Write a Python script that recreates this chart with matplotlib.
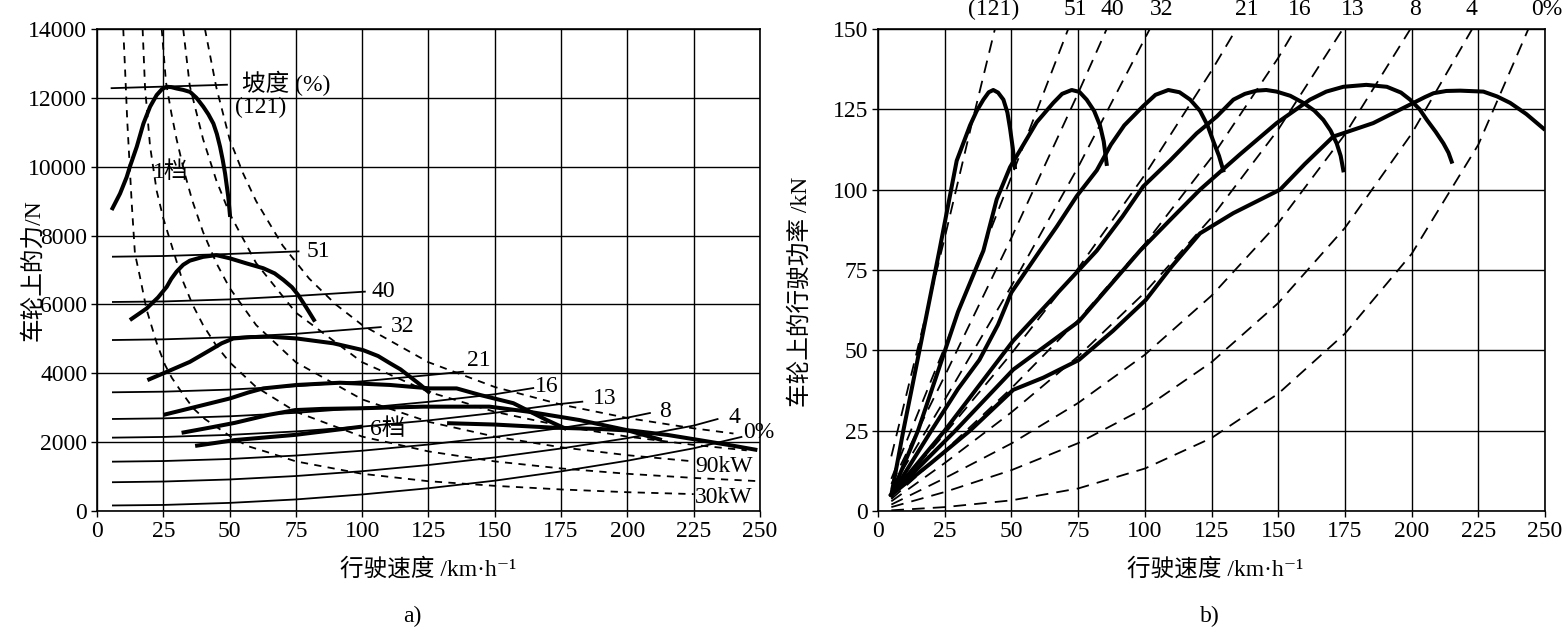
import numpy as np
import matplotlib.pyplot as plt

plt.rcParams['font.family'] = ['Liberation Serif', 'Noto Sans CJK SC', 'DejaVu Serif']
plt.rcParams['axes.unicode_minus'] = False

# ---------------- a) force at the wheels ----------------
# driving resistance for each grade (thin solid lines): speed km/h, force N
res_121_v = [5.5, 49]
res_121_f = [12280, 12380]
res_51_v = [6, 25, 50, 76]
res_51_f = [7385, 7405, 7465, 7540]
res_40_v = [6, 25, 50, 75, 101]
res_40_f = [6070, 6085, 6145, 6245, 6370]
res_32_v = [6, 25, 50, 75, 107]
res_32_f = [4965, 4985, 5045, 5145, 5340]
res_21_v = [6, 25, 50, 75, 100, 125, 138]
res_21_f = [3447, 3465, 3525, 3625, 3765, 3945, 4045]
res_16_v = [6, 25, 50, 75, 100, 125, 150, 164.5]
res_16_f = [2672, 2690, 2750, 2850, 2990, 3170, 3390, 3570]
res_13_v = [6, 25, 50, 75, 100, 125, 150, 175, 183]
res_13_f = [2130, 2150, 2210, 2310, 2450, 2630, 2850, 3110, 3175]
res_8_v = [6, 25, 50, 75, 100, 125, 150, 175, 200, 208.5]
res_8_f = [1432, 1450, 1510, 1610, 1750, 1930, 2150, 2410, 2710, 2845]
res_4_v = [6, 25, 50, 75, 100, 125, 150, 175, 200, 225, 234]
res_4_f = [835, 855, 915, 1015, 1155, 1335, 1555, 1815, 2115, 2480, 2670]
res_0_v = [6, 25, 50, 75, 100, 125, 150, 175, 200, 225, 243]
res_0_f = [160, 175, 235, 335, 480, 660, 880, 1150, 1460, 1820, 2150]

# constant power lines (dashed), kW
pw30_v = [9.9, 10.6, 11.4, 13.1, 14.3, 16.2, 18.7, 22.5, 25.6, 28.2, 31.9, 36.3, 40.7,
          50.8, 57, 64.6, 75, 100, 125, 150, 175, 200, 225]
pw30_f = [14000, 12800, 11340, 8930, 7480, 6800, 5850, 4880, 4250, 3870, 3450, 2980, 2670,
          2140, 1880, 1700, 1440, 1080, 864, 730, 625, 545, 490]
pw60_v = [17.2, 18.1, 20, 22.5, 25, 28.2, 32, 36, 40, 45, 50, 60, 75, 100, 125, 150, 175, 200, 225, 250]
pw60_f = [14000, 12320, 10600, 9300, 8500, 7700, 6750, 6000, 5400, 4800, 4320, 3600, 2880,
          2160, 1730, 1440, 1235, 1080, 960, 864]
pw90_v = [24.4, 26, 28, 30, 33, 36, 40, 45, 50, 60, 75, 100, 125, 150, 175, 200, 225]
pw90_f = [14000, 12460, 11570, 10800, 9820, 9000, 8100, 7200, 6480, 5400, 4320, 3240, 2590,
          2160, 1850, 1620, 1440]
pw120_v = [32.5, 35, 40, 45, 50, 60, 75, 100, 125, 150, 175, 200, 225, 245]
pw120_f = [14000, 12340, 10800, 9600, 8640, 7200, 5760, 4320, 3460, 2880, 2470, 2160, 1920, 1760]
pw150_v = [40.7, 45, 50, 55, 60, 70, 80, 90, 100, 125, 150, 175, 200, 225, 240]
pw150_f = [14000, 12300, 10800, 9820, 9000, 7710, 6750, 6000, 5400, 4320, 3600, 3090, 2700, 2400, 2250]

# tractive force per gear (heavy lines)
g1_v = [5.5, 8.7, 11.2, 12.4, 15, 17.5, 20, 22.5, 24.5, 26.3, 28, 30, 32.5, 35.1, 37.5, 40.1,
        42, 43.9, 45.2, 46.4, 47.4, 48.3, 49.5, 50.2]
g1_f = [8740, 9220, 9700, 10000, 10580, 11250, 11740, 12080, 12250, 12320, 12310, 12270, 12230,
        12170, 12000, 11740, 11520, 11250, 10950, 10580, 10200, 9800, 9120, 8540]
g2_v = [12.4, 18.7, 23, 26.3, 28, 30, 32.5, 35, 40, 45, 50, 56.4, 62.7, 67, 70.3, 73.5, 75.9, 79, 82.2]
g2_f = [5545, 5880, 6200, 6510, 6740, 6950, 7150, 7270, 7380, 7430, 7340, 7190, 7050, 6900,
        6710, 6500, 6270, 5900, 5500]
g3_v = [19, 26.3, 35, 42.6, 47, 51.4, 58, 65.2, 75.3, 89.1, 100.4, 106, 110.5, 114.5, 118, 122, 125.6]
g3_f = [3800, 4040, 4330, 4670, 4870, 5010, 5050, 5060, 5010, 4870, 4670, 4500, 4290, 4110,
        3900, 3660, 3420]
g4_v = [25, 35, 50.2, 57, 62.7, 75.3, 91.6, 110.5, 125.6, 135.6, 144.4, 157, 169.6, 177]
g4_f = [2790, 2980, 3270, 3440, 3560, 3660, 3725, 3660, 3560, 3560, 3370, 3130, 2640, 2380]
g5_v = [31.9, 43.2, 52, 64.6, 74.7, 85, 97.9, 123, 148, 163, 182, 199.7, 213]
g5_f = [2270, 2430, 2560, 2790, 2930, 2965, 2980, 3030, 3030, 2880, 2640, 2350, 2060]
g6_v = [37, 52, 74.7, 100, np.nan, 132, 150, 172, 190, 202, 215, 227, 238, 249]
g6_f = [1890, 2060, 2210, 2450, np.nan, 2550, 2510, 2420, 2380, 2330, 2210, 2060, 1920, 1770]

# ---------------- b) power at the wheels ----------------
# resistance power per grade (dashed): speed km/h, power kW
rp_121_v = [5, 15, 25, 35, 45]
rp_121_p = [17, 51, 85, 120, 154]
rp_51_v = [5, 25, 50, 75]
rp_51_p = [10, 51, 104, 158]
rp_40_v = [5, 25, 50, 75, 90]
rp_40_p = [8.4, 42, 85, 130, 158]
rp_32_v = [5, 25, 50, 75, 100, 110]
rp_32_p = [6.9, 34.6, 70, 107, 147, 163]
rp_21_v = [5, 25, 50, 75, 100, 125, 140]
rp_21_p = [4.8, 24, 49, 75.5, 104.6, 137, 158]
rp_16_v = [5, 25, 50, 75, 100, 125, 150, 160]
rp_16_p = [3.7, 18.7, 38.2, 59.4, 83.1, 110, 141, 155]
rp_13_v = [5, 25, 50, 75, 100, 125, 150, 175, 180]
rp_13_p = [3.0, 14.9, 30.7, 48.1, 68, 91.3, 118.7, 151, 158]
rp_8_v = [5, 25, 50, 75, 100, 125, 150, 175, 200, 205]
rp_8_p = [2.0, 10.2, 21, 33.6, 48.6, 67, 89.6, 117.2, 150.6, 158]
rp_4_v = [5, 25, 50, 75, 100, 125, 150, 175, 200, 225]
rp_4_p = [1.2, 5.9, 12.7, 21.1, 32, 46.3, 64.7, 88.1, 117.4, 153.3]
rp_0_v = [5, 25, 50, 75, 100, 125, 150, 175, 200, 225, 250]
rp_0_p = [0.2, 1.2, 3.3, 7.0, 13.2, 22.7, 36.5, 55.2, 80, 114, 162]

# wheel power per gear (heavy lines)
p1_v = [5, 9.5, 17, 23, 29.5, 34.5, 37, 39.5, 41.5, 43.2, 45, 47, 48.5, 49.5, 50.5, 51.3]
p1_p = [5, 25, 56, 81, 109, 120, 124.5, 128, 130.3, 131, 130.2, 128, 124, 119, 113, 107]
p2_v = [5, 15, 30, 39.5, 44.5, 49.5, 54.5, 59.5, 65.7, 69, 72.6, 75.5, 78.2, 81, 83.2, 84.6, 85.7]
p2_p = [5, 25, 62, 81, 97, 107, 114, 121, 127, 129.8, 131, 130.4, 128, 124.5, 120, 115, 108]
p3_v = [5, 20, 30, 38, 45, 50, 60.7, 67, 74.5, 82, 87.3, 92.3, 99.4, 104, 108.8, 113, 117,
        120.7, 123.5, 125.7, 127.8, 129.4]
p3_p = [5, 25, 38, 47, 58, 68, 81, 88.5, 98, 106, 114, 120, 126, 129.5, 131, 130.3, 128, 124.5,
        120, 115, 110.5, 106]
p4_v = [5, 25, 50.7, 75.3, 82, 91.6, 99.4, 109.4, 119.4, 126.9, 133.2, 137.5, 141.9, 145.5, 149.4,
        154.5, 159.4, 163.5, 166.9, 169.6, 171.9, 173.4, 174.4]
p4_p = [5, 25, 53, 75, 81, 91.6, 101, 109, 117.5, 122.7, 128, 129.8, 130.8, 131, 130.5, 129.2,
        127, 124.6, 121.7, 118.4, 114.4, 110.5, 106]
p5_v = [5, 29, 50.7, 75.3, 98.2, 110, 120.7, 135.7, 149.4, 161.9, 168, 174.4, 183, 190.7, 196,
        199.4, 203, 205.7, 209, 211.9, 213.8, 215]
p5_p = [5, 25, 44, 59, 81, 91, 100, 111, 120.7, 128, 130.5, 132, 132.6, 132, 130.2, 128, 125,
        121.7, 118, 114.4, 111.5, 108.7]
p6_v = [5, 20, 34.5, 50.7, 62, 75.3, 88, 100.4, 110, 120.7, 133.2, 150.7, 160, 170.6, 185.6,
        200.7, 205, 208.2, 213, 218.2, 226.9, 232, 236.9, 243, 249.4]
p6_p = [5, 15, 25, 37.7, 41.5, 47, 56, 65.7, 76, 86.4, 92.7, 100, 108, 116.5, 120.7, 127,
        128.8, 130, 130.7, 130.8, 130.5, 129, 127, 123.5, 119]

speed_ticks = [0, 25, 50, 75, 100, 125, 150, 175, 200, 225, 250]
force_ticks = [0, 2000, 4000, 6000, 8000, 10000, 12000, 14000]
power_ticks = [0, 25, 50, 75, 100, 125, 150]

FS = 17
fig = plt.figure(figsize=(15.67, 6.32), dpi=100)
ax1 = fig.add_axes([0.0619, 0.1915, 0.4231, 0.7627])
ax2 = fig.add_axes([0.5603, 0.1915, 0.4257, 0.7627])

for ax in (ax1, ax2):
    ax.set_xlim(0, 250)
    ax.set_xticks(speed_ticks)
    ax.grid(True, color='black', lw=1.0)
    ax.tick_params(direction='out', length=4, width=1.0, labelsize=FS, pad=3, color='black')
    for s in ax.spines.values():
        s.set_linewidth(1.2)

# ---- left chart
ax1.set_ylim(0, 14000)
ax1.set_yticks(force_ticks)

thin = dict(color='black', lw=1.3)
for v, f in [(res_121_v, res_121_f), (res_51_v, res_51_f), (res_40_v, res_40_f),
             (res_32_v, res_32_f), (res_21_v, res_21_f), (res_16_v, res_16_f),
             (res_13_v, res_13_f), (res_8_v, res_8_f), (res_4_v, res_4_f), (res_0_v, res_0_f)]:
    ax1.plot(v, f, **thin)

for v, f in [(pw30_v, pw30_f), (pw60_v, pw60_f), (pw90_v, pw90_f),
             (pw120_v, pw120_f), (pw150_v, pw150_f)]:
    ax1.plot(v, f, color='black', lw=1.3, dashes=(4, 3.5))

for v, f in [(g1_v, g1_f), (g2_v, g2_f), (g3_v, g3_f), (g4_v, g4_f), (g5_v, g5_f), (g6_v, g6_f)]:
    ax1.plot(v, f, color='black', lw=2.9, solid_capstyle='butt', solid_joinstyle='round')

lab = dict(fontsize=FS, va='center', ha='left')
ax1.text(54.5, 12430, '坡度 (%)', **lab)
ax1.text(52, 11720, '(121)', **lab)
ax1.text(21, 9850, '1档', **lab)
ax1.text(103, 2380, '6档', **lab)
for txt, x, y in [('51', 79, 7550), ('40', 103.5, 6360), ('32', 111, 5370), ('21', 139.5, 4380),
                  ('16', 165, 3610), ('13', 187, 3280), ('8', 212, 2900), ('4', 238, 2715),
                  ('0%', 243.6, 2280), ('90kW', 225.5, 1290), ('30kW', 225.5, 390)]:
    ax1.text(x, y, txt, clip_on=False, **lab)

ax1.set_ylabel('车轮上的力/N', fontsize=FS)
ax1.yaxis.set_label_coords(-0.08, 0.5)
ax1.set_xlabel('行驶速度 /km·h⁻¹', fontsize=FS)
ax1.xaxis.set_label_coords(0.5, -0.097)

# ---- right chart
ax2.set_ylim(0, 150)
ax2.set_yticks(power_ticks)

for v, p in [(rp_121_v, rp_121_p), (rp_51_v, rp_51_p), (rp_40_v, rp_40_p), (rp_32_v, rp_32_p),
             (rp_21_v, rp_21_p), (rp_16_v, rp_16_p), (rp_13_v, rp_13_p), (rp_8_v, rp_8_p),
             (rp_4_v, rp_4_p), (rp_0_v, rp_0_p)]:
    ax2.plot(v, p, color='black', lw=1.3, dashes=(7, 4.5))

for v, p in [(p1_v, p1_p), (p2_v, p2_p), (p3_v, p3_p), (p4_v, p4_p), (p5_v, p5_p), (p6_v, p6_p)]:
    ax2.plot(v, p, color='black', lw=2.9, solid_joinstyle='round')

for txt, x in [('(121)', 43.5), ('51', 73.8), ('40', 88), ('32', 106.3), ('21', 138.2),
               ('16', 158.2), ('13', 177.8), ('8', 201.3), ('4', 222.3), ('0%', 250.6)]:
    ax2.text(x, 1.04, txt, transform=ax2.get_xaxis_transform(), ha='center', va='center',
             fontsize=FS, clip_on=False)

ax2.set_ylabel('车轮上的行驶功率 /kN', fontsize=FS)
ax2.yaxis.set_label_coords(-0.099, 0.455)
ax2.set_xlabel('行驶速度 /km·h⁻¹', fontsize=FS)
ax2.xaxis.set_label_coords(0.505, -0.097)

fig.text(0.263, 0.024, 'a)', fontsize=FS, ha='center', va='center')
fig.text(0.772, 0.024, 'b)', fontsize=FS, ha='center', va='center')

fig.savefig('out.png', dpi=100, facecolor='white')
